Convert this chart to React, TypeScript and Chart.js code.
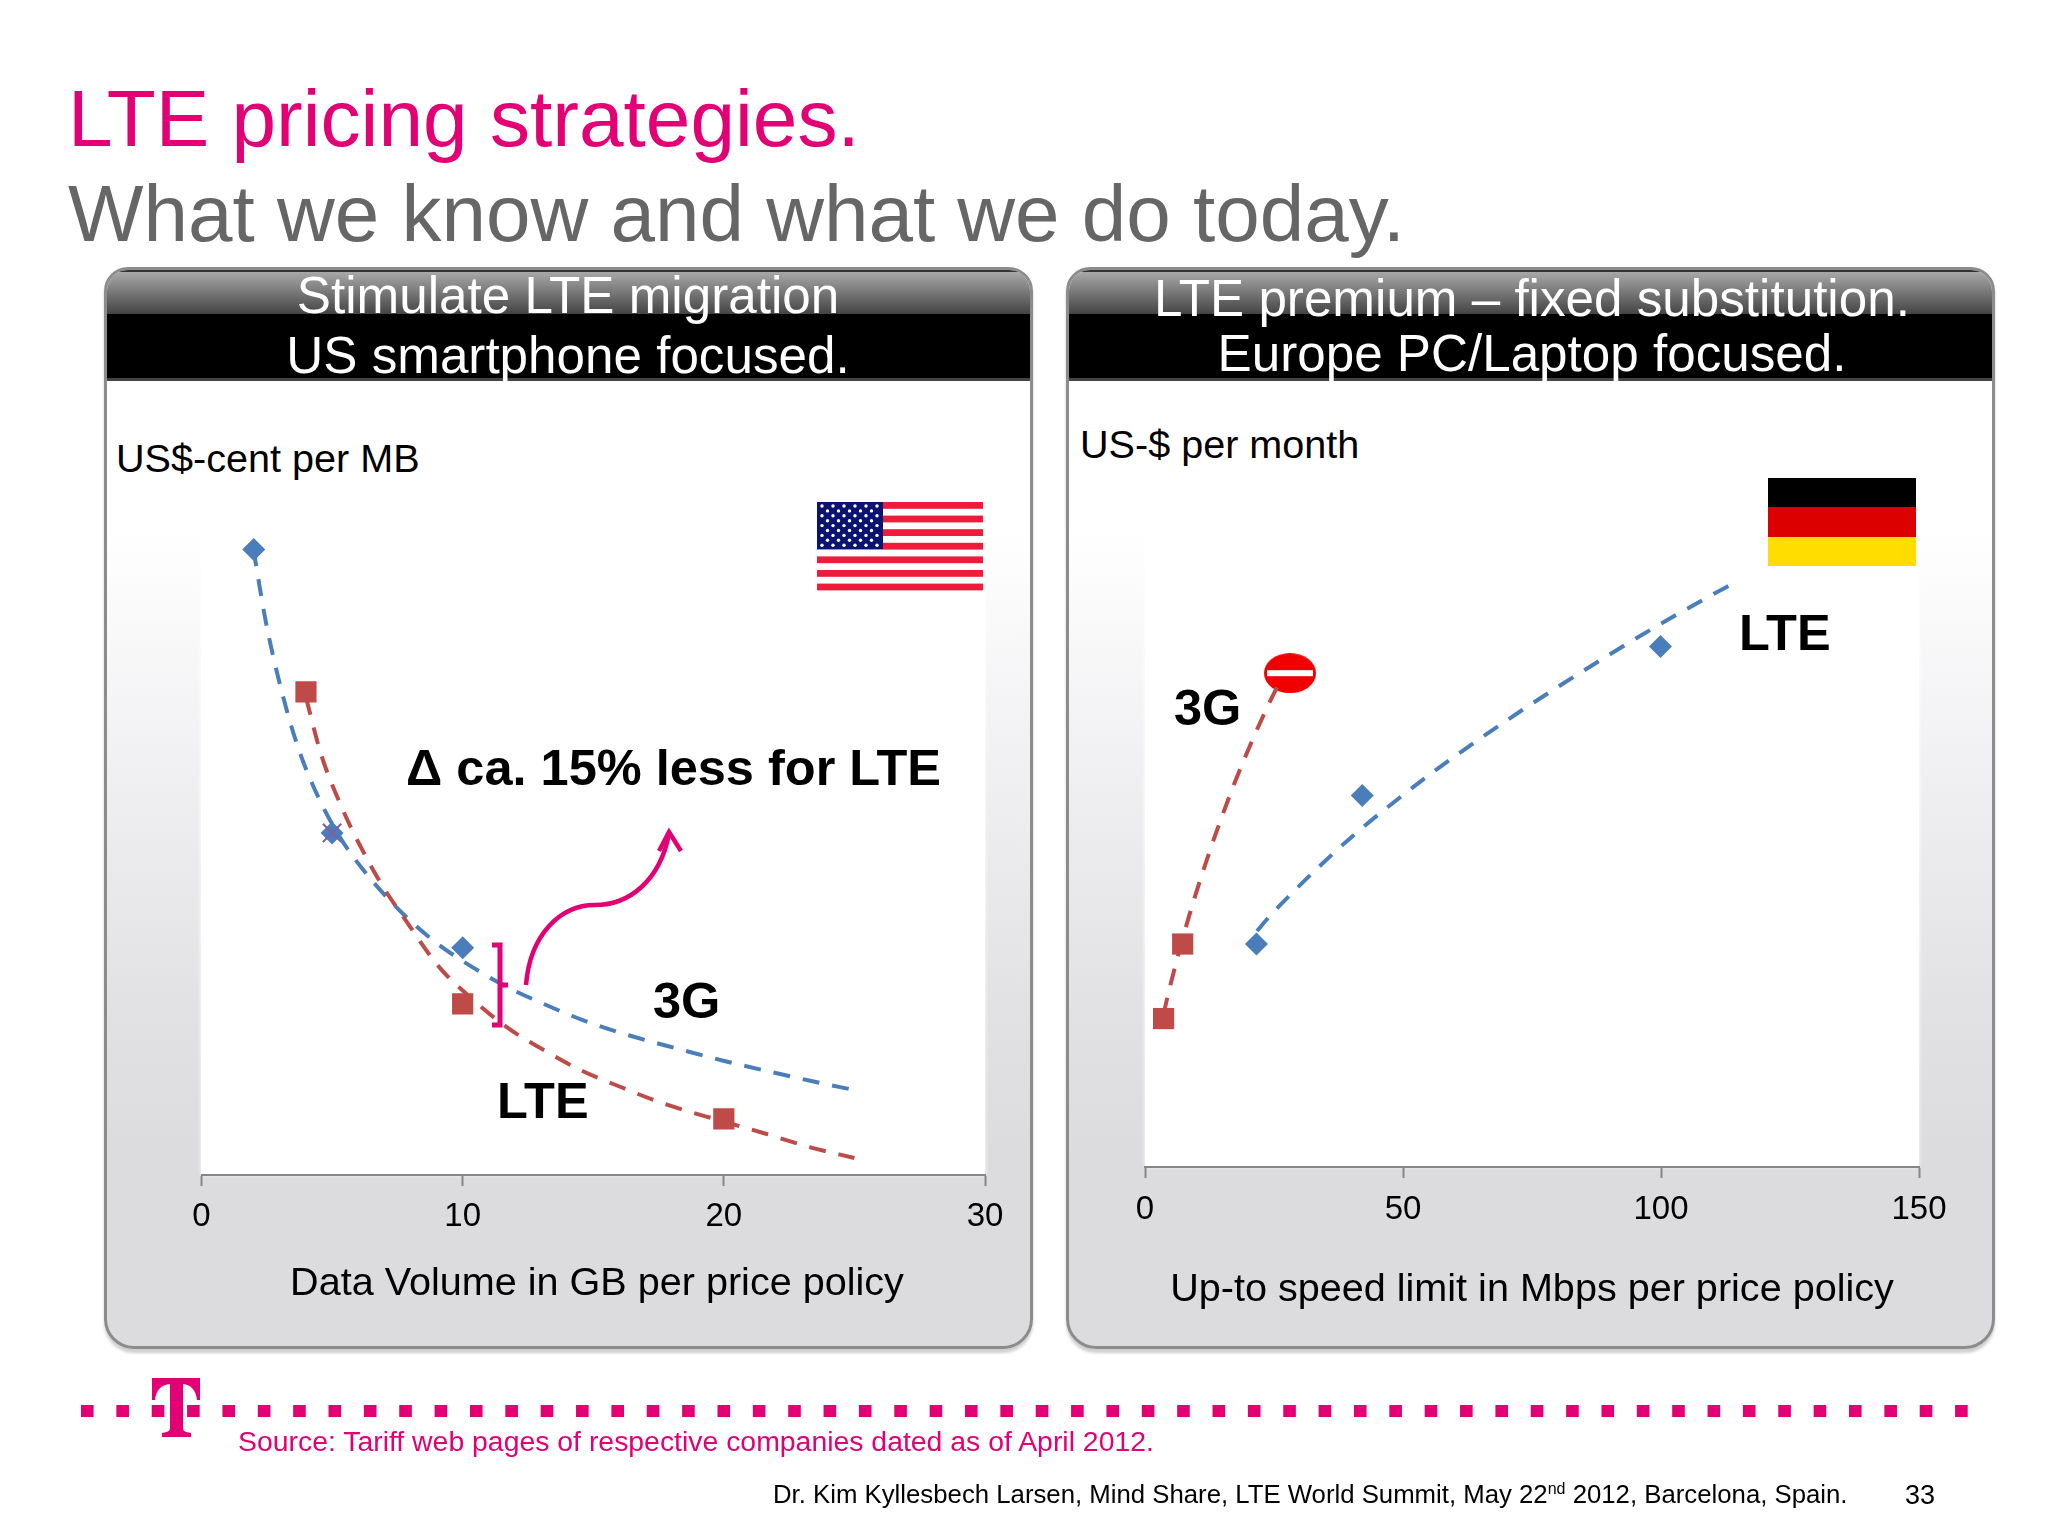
import { useEffect, useRef } from 'react';
import { Chart, registerables } from 'chart.js';

Chart.register(...registerables);

const FONT = "'Liberation Sans', Arial, sans-serif";
const MAGENTA = '#E20074';
const BLUE = '#4A7EBB';
const RED = '#BE4B48';

// left chart: price per MB against data volume
const usTickStep = 10;
const us3gX = [2, 5, 10];
const us3gY = [4.79, 2.62, 1.74];
const usLteX = [4, 10, 20];
const usLteY = [3.7, 1.31, 0.43];
const usCrossX = [5];
const usCrossY = [2.62];
const us3gTrendX = [1.99, 2.46, 2.95, 3.62, 4.32, 5.23, 6.26, 7.82, 8.85, 9.99, 11.7, 12.99, 14.55, 16.36, 18.17, 19.98, 21.79, 23.35, 25.0];
const us3gTrendY = [4.79, 4.24, 3.8, 3.32, 2.96, 2.61, 2.32, 1.98, 1.8, 1.64, 1.44, 1.32, 1.19, 1.07, 0.97, 0.875, 0.79, 0.72, 0.65];
const usLteTrendX = [4.01, 4.58, 5.36, 6.0, 6.91, 7.82, 9.11, 10.41, 11.7, 12.99, 14.55, 16.1, 17.65, 19.98, 21.54, 23.35, 25.0];
const usLteTrendY = [3.65, 3.22, 2.82, 2.55, 2.22, 1.95, 1.59, 1.34, 1.13, 0.97, 0.8, 0.67, 0.55, 0.41, 0.32, 0.21, 0.13];

// right chart: price per month against speed limit
const deTickStep = 50;
const deLteX = [21.6, 42.1, 99.9];
const deLteY = [32.6, 54.3, 76.1];
const de3gX = [3.6, 7.3];
const de3gY = [21.7, 32.6];
const deStopX = [28.1];
const deStopY = [72.2];
const de3gTrendX = [3.58, 4.69, 6.29, 8.51, 11.23, 13.94, 17.39, 21.09, 24.18, 26.28];
const de3gTrendY = [22.3, 25.9, 30.6, 36.6, 43.2, 49.2, 56.2, 62.9, 68.0, 71.2];
const deLteTrendX = [21.7, 24.2, 29.1, 34.7, 40.8, 47.0, 55.6, 64.3, 72.9, 81.5, 90.2, 98.8, 107.4, 115.1];
const deLteTrendY = [34.5, 36.7, 40.5, 44.6, 48.75, 52.6, 57.6, 62.3, 66.7, 70.9, 75.0, 78.9, 82.6, 85.8];

const zip = (xs: number[], ys: number[]) => xs.map((x, i) => ({ x, y: ys[i] }));

const trend = (xs: number[], ys: number[], color: string) => ({
  data: zip(xs, ys),
  showLine: true,
  borderColor: color,
  borderWidth: 4,
  borderDash: [17, 13],
  borderCapStyle: 'butt' as const,
  cubicInterpolationMode: 'monotone' as const,
  pointRadius: 0,
});

const marks = (xs: number[], ys: number[], color: string, style: any, radius: number) => ({
  data: zip(xs, ys),
  showLine: false,
  backgroundColor: color,
  borderColor: color,
  borderWidth: style === 'crossRot' ? 2 : 0,
  pointStyle: style,
  pointRadius: radius,
});

function makeStopSign() {
  const c = document.createElement('canvas');
  c.width = 52;
  c.height = 40;
  const ctx = c.getContext('2d')!;
  ctx.fillStyle = '#F00000';
  ctx.beginPath();
  ctx.ellipse(26, 20, 26, 20, 0, 0, Math.PI * 2);
  ctx.fill();
  ctx.fillStyle = '#fff';
  ctx.fillRect(3, 17, 46, 6);
  return c;
}

function xAxis(max: number, step: number, height: number, tickPad: number) {
  return {
    type: 'linear' as const,
    min: 0,
    max,
    afterFit: (scale: any) => {
      scale.height = height;
    },
    border: { display: true, color: '#868686', width: 2 },
    grid: { drawOnChartArea: false, drawTicks: true, tickLength: 11, tickColor: '#868686', tickWidth: 2 },
    ticks: { stepSize: step, padding: tickPad, color: '#000', maxRotation: 0, font: { family: FONT, size: 33 } },
  };
}

function PriceChart({ left, top, width, height, config }: any) {
  const ref = useRef<HTMLCanvasElement>(null);
  useEffect(() => {
    if (!ref.current) return;
    const chart = new Chart(ref.current, config());
    return () => chart.destroy();
  }, []);
  return <canvas ref={ref} width={width} height={height} style={{ position: 'absolute', left, top, width, height }} />;
}

const baseOptions = {
  responsive: false,
  animation: false as const,
  devicePixelRatio: 1,
  plugins: { legend: { display: false }, tooltip: { enabled: false } },
};

const usConfig = () => ({
  type: 'scatter' as const,
  data: {
    datasets: [
      trend(usLteTrendX, usLteTrendY, RED),
      trend(us3gTrendX, us3gTrendY, BLUE),
      marks(usCrossX, usCrossY, '#7D60A0', 'crossRot', 13),
      marks(usLteX, usLteY, RED, 'rect', 15),
      marks(us3gX, us3gY, BLUE, 'rectRot', 11.5),
    ],
  },
  options: {
    ...baseOptions,
    layout: { padding: { left: 61.5, right: 55, top: 56, bottom: 0 } },
    scales: {
      x: xAxis(30, usTickStep, 165, 11),
      y: { display: false, min: 0, max: 5.2 },
    },
  },
});

const deConfig = () => ({
  type: 'scatter' as const,
  data: {
    datasets: [
      trend(deLteTrendX, deLteTrendY, BLUE),
      trend(de3gTrendX, de3gTrendY, RED),
      marks(de3gX, de3gY, RED, 'rect', 15),
      marks(deLteX, deLteY, BLUE, 'rectRot', 11.5),
      { ...marks(deStopX, deStopY, RED, makeStopSign(), 20), borderWidth: 0 },
    ],
  },
  options: {
    ...baseOptions,
    layout: { padding: { left: 65, right: 61, top: 43, bottom: 0 } },
    scales: {
      x: xAxis(150, deTickStep, 173, 12),
      y: { display: false, min: 0, max: 100 },
    },
  },
});

function Text({ x, y, size, color = '#000', bold, center, children }: any) {
  return (
    <div
      style={{
        position: 'absolute',
        left: x,
        top: y,
        transform: center ? 'translate(-50%,-50%)' : 'translateY(-50%)',
        fontFamily: FONT,
        fontSize: size,
        lineHeight: 1,
        fontWeight: bold ? 700 : 400,
        color,
        whiteSpace: 'nowrap',
      }}
    >
      {children}
    </div>
  );
}

function Panel({ left, width }: { left: number; width: number }) {
  return (
    <div
      style={{
        position: 'absolute',
        left,
        top: 267,
        width,
        height: 1082,
        boxSizing: 'border-box',
        borderRadius: '24px 24px 30px 30px',
        border: '3px solid #8c8c8c',
        background: 'linear-gradient(#fff 24%, #f3f3f5 42%, #e2e2e4 68%, #dcdbde 82%)',
        boxShadow: '0 4px 3px #d0d0d0',
        overflow: 'hidden',
      }}
    >
      <div style={{ height: 42, background: 'linear-gradient(#a8a8a8, #444)', borderTop: '2px solid #333' }} />
      <div style={{ height: 64, background: '#000', borderBottom: '3px solid #444' }} />
    </div>
  );
}

function UsFlag() {
  const stripes = Array.from({ length: 7 }, (_, i) => i);
  const stars: [number, number][] = [];
  for (let r = 0; r < 9; r++) {
    const n = r % 2 ? 5 : 6;
    for (let c = 0; c < n; c++) stars.push([822 + (r % 2 ? 5.5 : 0) + c * 11, 506 + r * 4.9]);
  }
  return (
    <>
      <rect x={817} y={502} width={166} height={88} fill="#fff" />
      {stripes.map((i) => (
        <rect key={i} x={817} y={502 + i * 13.6} width={166} height={6.8} fill="#EE1C3A" />
      ))}
      <rect x={817} y={502} width={66} height={47} fill="#0A1470" />
      {stars.map(([x, y], i) => (
        <circle key={i} cx={x} cy={y} r={1.7} fill="#fff" />
      ))}
    </>
  );
}

function Footer() {
  const dots = Array.from({ length: 54 }, (_, i) => 81 + i * 35.36);
  return (
    <>
      {dots.map((x) => (
        <rect key={x} x={x} y={1405} width={12.6} height={12} fill={MAGENTA} />
      ))}
      <path
        d="M152 1378H200V1400H197C196 1390 191 1385 183 1384V1428C183 1431 185 1432 191 1433V1437H162V1433C168 1432 170 1431 170 1428V1384C161 1385 156 1390 155 1400H152Z"
        fill={MAGENTA}
      />
    </>
  );
}

export default function App() {
  return (
    <div style={{ position: 'absolute', left: 0, top: 0, width: 2048, height: 1536, background: '#fff', overflow: 'hidden' }}>
      <Text x={68} y={118} size={80.2} color={MAGENTA}>LTE pricing strategies.</Text>
      <Text x={68} y={214} size={80} color="#666">What we know and what we do today.</Text>

      <Panel left={104} width={929} />
      <Panel left={1066} width={929} />

      <div style={{ position: 'absolute', left: 201, top: 496, width: 784, height: 679, background: '#fff', boxShadow: '0 0 4px #fff' }} />
      <div style={{ position: 'absolute', left: 1145, top: 483, width: 774, height: 684, background: '#fff', boxShadow: '0 0 4px #fff' }} />

      <Text x={568} y={296} size={51.2} color="#fff" center>Stimulate LTE migration</Text>
      <Text x={568} y={356} size={51.2} color="#fff" center>US smartphone focused.</Text>
      <Text x={1532} y={299} size={51.2} color="#fff" center>LTE premium – fixed substitution.</Text>
      <Text x={1532} y={354} size={51.2} color="#fff" center>Europe PC/Laptop focused.</Text>

      <Text x={116} y={459} size={39.6}>US$-cent per MB</Text>
      <Text x={1080} y={445} size={39.6}>US-$ per month</Text>

      <PriceChart left={140} top={440} width={900} height={900} config={usConfig} />
      <PriceChart left={1080} top={440} width={900} height={900} config={deConfig} />

      <Text x={597} y={1282} size={39.6} center>Data Volume in GB per price policy</Text>
      <Text x={1532} y={1288} size={39.6} center>Up-to speed limit in Mbps per price policy</Text>

      <svg width={2048} height={1536} style={{ position: 'absolute', left: 0, top: 0 }}>
        <UsFlag />
        <rect x={1768} y={478} width={148} height={29} fill="#000" />
        <rect x={1768} y={507} width={148} height={30} fill="#DD0000" />
        <rect x={1768} y={537} width={148} height={29} fill="#FFDD00" />
        <g fill="none" stroke={MAGENTA}>
          <path d="M492 945H500V1025H492M500 985H508" strokeWidth={5} />
          <path d="M526 985C530 935 560 905 595 905C630 905 660 880 669 834" strokeWidth={4.5} />
          <path d="M659 851L669 832L681 851" strokeWidth={4.5} />
        </g>
        <Footer />
      </svg>

      <Text x={406} y={768} size={50.5} bold>Δ ca. 15% less for LTE</Text>
      <Text x={653} y={1001} size={50.5} bold>3G</Text>
      <Text x={497} y={1101} size={50.5} bold>LTE</Text>
      <Text x={1174} y={708} size={50.5} bold>3G</Text>
      <Text x={1739} y={633} size={50.5} bold>LTE</Text>

      <Text x={238} y={1441} size={28.4} color={MAGENTA}>Source: Tariff web pages of respective companies dated as of April 2012.</Text>
      <Text x={773} y={1495} size={25.75}>
        Dr. Kim Kyllesbech Larsen, Mind Share, LTE World Summit, May 22<sup style={{ fontSize: 16, lineHeight: 0 }}>nd</sup> 2012, Barcelona, Spain.
      </Text>
      <Text x={1905} y={1495} size={27}>33</Text>
    </div>
  );
}
